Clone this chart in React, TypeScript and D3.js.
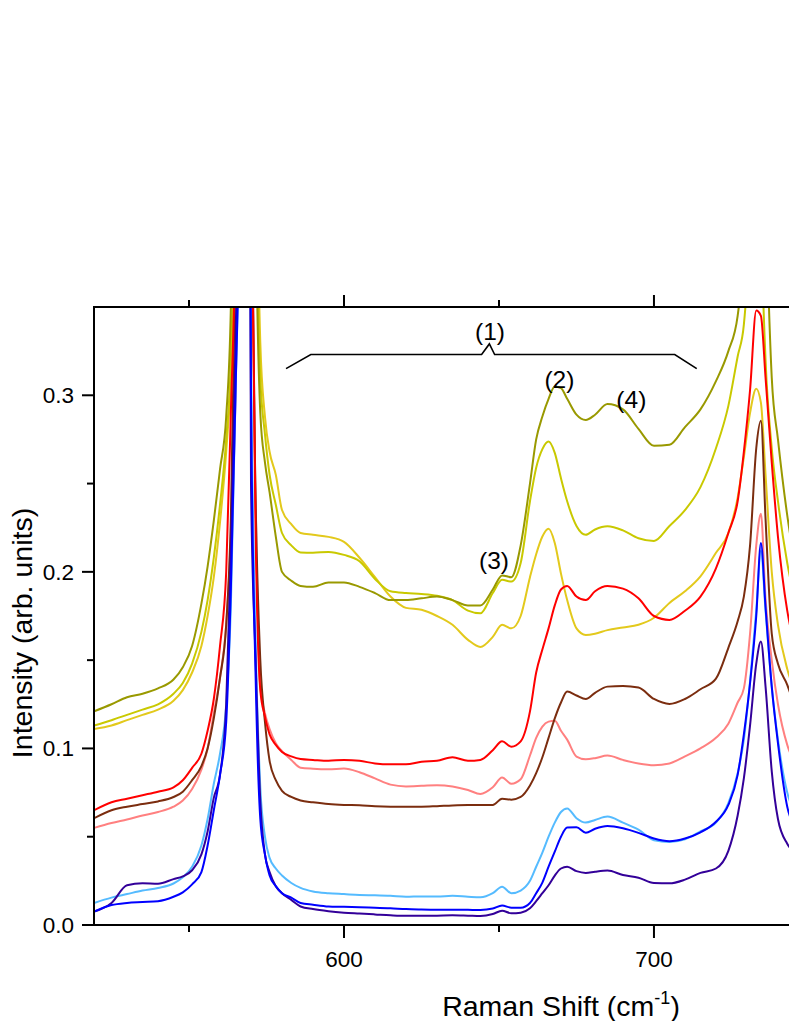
import React from 'react';
import * as d3 from 'd3';

// Raman shift grid (cm^-1)
const X = [519.4, 525, 530, 535, 540, 545, 548, 551, 554, 556,
  558, 560, 562, 563.5, 565, 566.5, 568, 570, 571.5, 573,
  574.5, 576, 578, 580, 583, 586, 590, 595, 600, 605,
  610, 615, 620, 625, 630, 635, 640, 644, 648, 651,
  654, 657, 660, 662, 664, 666, 668, 670, 672, 675,
  678, 681, 685, 690, 695, 700, 705, 710, 715, 720,
  724, 727, 729, 731, 733, 734.5, 736, 738, 740, 743,
  746];

const OLIVE = [0.121, 0.125, 0.129, 0.131, 0.134, 0.139, 0.146, 0.158, 0.182, 0.203,
  0.229, 0.258, 0.288, 0.35, 0.55, 0.9, 1.2, 0.9, 0.42, 0.29,
  0.262, 0.245, 0.22, 0.2, 0.195, 0.192, 0.1915, 0.194, 0.194, 0.1915,
  0.188, 0.184, 0.184, 0.185, 0.186, 0.184, 0.181, 0.181, 0.19, 0.198,
  0.197, 0.215, 0.25, 0.275, 0.288, 0.298, 0.305, 0.304, 0.298, 0.289,
  0.286, 0.289, 0.295, 0.292, 0.281, 0.2714, 0.272, 0.282, 0.292, 0.308,
  0.325, 0.345, 0.38, 0.45, 0.6, 0.55, 0.42, 0.31, 0.275, 0.232,
  0.2];

const YELLOW = [0.113, 0.116, 0.119, 0.122, 0.125, 0.131, 0.137, 0.148, 0.166, 0.184,
  0.208, 0.238, 0.275, 0.32, 0.45, 0.8, 1.2, 0.9, 0.46, 0.31,
  0.278, 0.255, 0.238, 0.222, 0.215, 0.211, 0.2108, 0.2113, 0.2096, 0.206,
  0.196, 0.189, 0.188, 0.1875, 0.1865, 0.184, 0.178, 0.1765, 0.188, 0.1955,
  0.1945, 0.205, 0.24, 0.259, 0.2695, 0.2738, 0.2674, 0.253, 0.24, 0.226,
  0.221, 0.224, 0.2258, 0.2235, 0.219, 0.2175, 0.226, 0.235, 0.248, 0.27,
  0.294, 0.322, 0.34, 0.4, 0.55, 0.4, 0.32, 0.27, 0.24, 0.205,
  0.18];

const GOLD = [0.111, 0.113, 0.116, 0.119, 0.122, 0.127, 0.133, 0.143, 0.158, 0.175,
  0.197, 0.228, 0.268, 0.31, 0.4, 0.7, 1.2, 0.95, 0.5, 0.33,
  0.288, 0.268, 0.255, 0.235, 0.227, 0.222, 0.221, 0.2198, 0.217, 0.208,
  0.197, 0.186, 0.1796, 0.1785, 0.175, 0.17, 0.1615, 0.1575, 0.1632, 0.17,
  0.168, 0.175, 0.197, 0.21, 0.22, 0.2244, 0.2164, 0.199, 0.184, 0.168,
  0.1643, 0.165, 0.167, 0.1685, 0.17, 0.174, 0.1824, 0.189, 0.1975, 0.2108,
  0.222, 0.242, 0.265, 0.29, 0.3037, 0.2958, 0.255, 0.2, 0.17, 0.145,
  0.13];

const RED = [0.065, 0.0695, 0.0715, 0.0735, 0.0755, 0.078, 0.082, 0.089, 0.097, 0.11,
  0.128, 0.158, 0.2, 0.29, 0.4, 0.7, 1.2, 0.45, 0.22, 0.133,
  0.118, 0.108, 0.102, 0.098, 0.0955, 0.094, 0.0935, 0.093, 0.0935, 0.093,
  0.0915, 0.091, 0.091, 0.0925, 0.093, 0.095, 0.093, 0.0935, 0.099, 0.104,
  0.101, 0.104, 0.121, 0.143, 0.156, 0.168, 0.181, 0.19, 0.192, 0.186,
  0.184, 0.189, 0.192, 0.1905, 0.185, 0.175, 0.1728, 0.178, 0.186, 0.202,
  0.222, 0.24, 0.268, 0.303, 0.348, 0.345, 0.31, 0.262, 0.22, 0.178,
  0.155];

const BROWN = [0.0605, 0.065, 0.067, 0.0685, 0.07, 0.0725, 0.0755, 0.082, 0.09, 0.1,
  0.117, 0.14, 0.17, 0.23, 0.38, 0.65, 1.2, 0.45, 0.24, 0.15,
  0.115, 0.093, 0.082, 0.076, 0.0725, 0.0705, 0.0695, 0.0685, 0.068, 0.0678,
  0.0672, 0.067, 0.067, 0.067, 0.0673, 0.0677, 0.0679, 0.0679, 0.068, 0.0715,
  0.071, 0.0725, 0.079, 0.086, 0.095, 0.106, 0.117, 0.126, 0.1322, 0.13,
  0.128, 0.1315, 0.135, 0.1354, 0.1345, 0.128, 0.1252, 0.128, 0.1335, 0.1395,
  0.157, 0.172, 0.186, 0.215, 0.27, 0.2856, 0.23, 0.165, 0.148, 0.136,
  0.12];

const SALMON = [0.055, 0.0578, 0.0598, 0.062, 0.064, 0.067, 0.0705, 0.077, 0.088, 0.1,
  0.12, 0.14, 0.17, 0.22, 0.3, 0.5, 1.2, 0.45, 0.24, 0.135,
  0.12, 0.111, 0.103, 0.0985, 0.0935, 0.0891, 0.0885, 0.0882, 0.0886, 0.0865,
  0.083, 0.0795, 0.0785, 0.0788, 0.0792, 0.0785, 0.0765, 0.0742, 0.078, 0.0835,
  0.08, 0.0825, 0.096, 0.106, 0.1124, 0.1152, 0.1157, 0.11, 0.105, 0.0954,
  0.0939, 0.0945, 0.096, 0.0935, 0.0915, 0.0905, 0.0915, 0.0955, 0.1, 0.106,
  0.114, 0.126, 0.134, 0.165, 0.215, 0.2329, 0.185, 0.15, 0.125, 0.102,
  0.09];

const LIGHTBLUE = [0.0125, 0.0155, 0.0175, 0.0195, 0.021, 0.0235, 0.027, 0.033, 0.045, 0.06,
  0.08, 0.097, 0.125, 0.18, 0.3, 0.45, 1.2, 0.33, 0.16, 0.078,
  0.05, 0.038, 0.032, 0.028, 0.0238, 0.021, 0.019, 0.018, 0.0175, 0.017,
  0.0168, 0.0165, 0.016, 0.0162, 0.0162, 0.0165, 0.016, 0.0157, 0.018, 0.0217,
  0.018, 0.0195, 0.025, 0.033, 0.041, 0.05, 0.058, 0.064, 0.066, 0.0605,
  0.058, 0.0595, 0.0614, 0.058, 0.054, 0.048, 0.047, 0.0485, 0.053, 0.058,
  0.069, 0.086, 0.105, 0.138, 0.178, 0.212, 0.178, 0.135, 0.105, 0.075,
  0.062];

const BLUE = [0.0076, 0.0113, 0.0125, 0.013, 0.0135, 0.016, 0.0185, 0.023, 0.03, 0.045,
  0.065, 0.085, 0.115, 0.19, 0.3, 0.45, 1.2, 0.3, 0.14, 0.06,
  0.04, 0.028, 0.022, 0.018, 0.0155, 0.0125, 0.0115, 0.0105, 0.0103, 0.01,
  0.0098, 0.0095, 0.009, 0.0088, 0.0087, 0.0087, 0.0086, 0.0085, 0.0093, 0.011,
  0.0098, 0.0098, 0.0125, 0.018, 0.024, 0.033, 0.0415, 0.05, 0.0552, 0.0553,
  0.0522, 0.0545, 0.0561, 0.0548, 0.0522, 0.049, 0.0475, 0.049, 0.0525, 0.0585,
  0.068, 0.085, 0.108, 0.137, 0.175, 0.2164, 0.18, 0.135, 0.103, 0.067,
  0.055];

const INDIGO = [0.0076, 0.0125, 0.0225, 0.0236, 0.0234, 0.026, 0.0275, 0.031, 0.04, 0.053,
  0.072, 0.085, 0.125, 0.21, 0.33, 0.5, 1.2, 0.25, 0.15, 0.07,
  0.04, 0.03, 0.022, 0.018, 0.0142, 0.0105, 0.009, 0.0078, 0.007, 0.0065,
  0.006, 0.0055, 0.0052, 0.0052, 0.0053, 0.0055, 0.0053, 0.0051, 0.0062, 0.0081,
  0.0066, 0.007, 0.0095, 0.0135, 0.018, 0.0225, 0.028, 0.032, 0.033, 0.0305,
  0.0295, 0.0302, 0.0308, 0.0283, 0.0268, 0.0238, 0.0236, 0.0257, 0.0295, 0.032,
  0.042, 0.062, 0.083, 0.113, 0.148, 0.1605, 0.135, 0.087, 0.06, 0.046,
  0.04];

const SERIES = [
  { name: 'gold', color: '#e3c91c', values: GOLD },
  { name: 'yellow', color: '#c9c900', values: YELLOW },
  { name: 'olive', color: '#999900', values: OLIVE },
  { name: 'salmon', color: '#ff8080', values: SALMON },
  { name: 'brown', color: '#7b2d0f', values: BROWN },
  { name: 'red', color: '#ff0000', values: RED },
  { name: 'lightblue', color: '#55bbff', values: LIGHTBLUE },
  { name: 'indigo', color: '#330099', values: INDIGO },
  { name: 'blue', color: '#0000ff', values: BLUE },
];

const X_MAJOR = [600, 700];
const X_MINOR = [550, 650];
const Y_MAJOR = [0, 0.1, 0.2, 0.3];
const Y_MINOR = [0.05, 0.15, 0.25];

// annotation labels: [text, x (cm-1), y (baseline, intensity)]
const LABELS: [string, number, number][] = [
  ['(1)', 647.1, 0.3312],
  ['(2)', 669.5, 0.3042],
  ['(4)', 692.7, 0.2929],
  ['(3)', 648.4, 0.2017],
];
// bracket for (1): x (cm-1), y (intensity)
const BRACKET_X = [581.3, 589.3, 644.4, 646.9, 648.6, 706.7, 713.8];
const BRACKET_Y = [0.3151, 0.3231, 0.3231, 0.3291, 0.3231, 0.3231, 0.3151];

export default function App() {
  const W = 789, H = 1021;
  const x = d3.scaleLinear().domain([519.35, 745.5]).range([94, 795]);
  const y = d3.scaleLinear().domain([0, 0.35]).range([925, 307]);
  const [x0, x1] = x.range();
  const [yb, yt] = y.range();
  const line = d3.line<number>()
    .x((_, i) => x(X[i]))
    .y((d) => y(d))
    .curve(d3.curveMonotoneX);
  const bracket = d3.line<number>()
    .x((d) => x(d))
    .y((_, i) => y(BRACKET_Y[i]));
  const fmt = d3.format('.1f');
  const font = 'Liberation Sans, Arial, Helvetica, sans-serif';

  return (
    <svg width={W} height={H} style={{ position: 'absolute', left: 0, top: 0, background: '#fff' }}
      fontFamily={font}>
      <defs>
        <clipPath id="plotClip">
          <rect x={x0} y={yt} width={x1 - x0} height={yb - yt} />
        </clipPath>
      </defs>
      <rect x={0} y={0} width={W} height={H} fill="#fff" />
      <g clipPath="url(#plotClip)">
        {SERIES.map((s) => (
          <path key={s.name} d={line(s.values) || ''} fill="none" stroke={s.color}
            strokeWidth={2} strokeLinejoin="round" />
        ))}
      </g>
      {/* bracket & labels */}
      <path d={bracket(BRACKET_X) || ''} fill="none" stroke="#000" strokeWidth={1.6} />
      {LABELS.map(([t, lx, ly]) => (
        <text key={t} x={x(lx)} y={y(ly)} textAnchor="middle" fontSize={24.5} fill="#000">{t}</text>
      ))}
      {/* axes */}
      <g stroke="#000" strokeWidth={2} fill="none">
        <line x1={x0} y1={yt} x2={x0} y2={yb + 1} />
        <line x1={x0 - 1} y1={yb} x2={x1} y2={yb} />
        <line x1={x0 - 1} y1={yt} x2={x1} y2={yt} />
        {X_MAJOR.map((v) => (
          <g key={'xm' + v}>
            <line x1={x(v)} x2={x(v)} y1={yb} y2={yb + 13} />
            <line x1={x(v)} x2={x(v)} y1={yt} y2={yt - 12} />
          </g>
        ))}
        {X_MINOR.map((v) => (
          <g key={'xn' + v}>
            <line x1={x(v)} x2={x(v)} y1={yb} y2={yb + 7} />
            <line x1={x(v)} x2={x(v)} y1={yt} y2={yt - 7} />
          </g>
        ))}
        {Y_MAJOR.map((v) => (
          <line key={'ym' + v} x1={x0 - 12} x2={x0} y1={y(v)} y2={y(v)} />
        ))}
        {Y_MINOR.map((v) => (
          <line key={'yn' + v} x1={x0 - 7} x2={x0} y1={y(v)} y2={y(v)} />
        ))}
      </g>
      {X_MAJOR.map((v) => (
        <text key={'xl' + v} x={x(v)} y={yb + 42} textAnchor="middle" fontSize={22.5}>{v}</text>
      ))}
      {Y_MAJOR.map((v) => (
        <text key={'yl' + v} x={x0 - 20} y={y(v) + 8} textAnchor="end" fontSize={22.5}>{fmt(v)}</text>
      ))}
      <text x={561} y={1016} textAnchor="middle" fontSize={28.5}>
        Raman Shift (cm<tspan fontSize={18} dy={-12}>-1</tspan><tspan dy={12}>)</tspan>
      </text>
      <text transform={`translate(32,${633}) rotate(-90)`} textAnchor="middle" fontSize={28.5}>
        Intensity (arb. units)
      </text>
    </svg>
  );
}
